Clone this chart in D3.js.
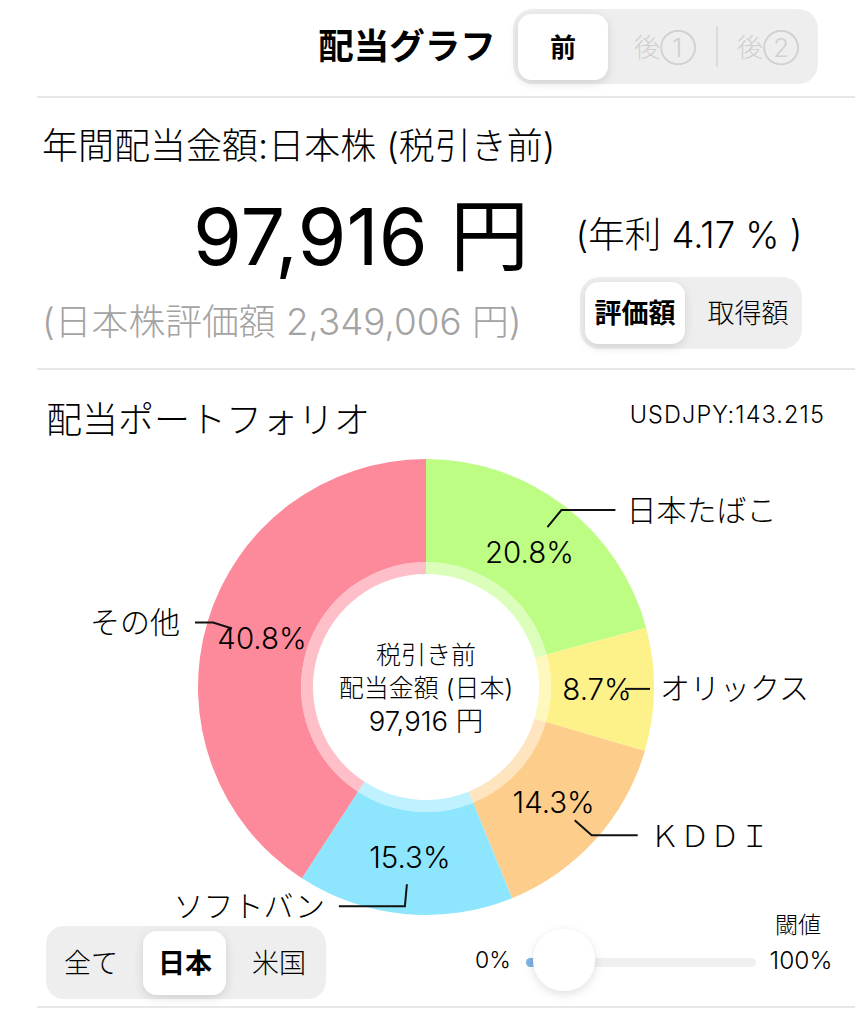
<!DOCTYPE html>
<html lang="ja">
<head>
<meta charset="UTF-8"/>
<title>配当グラフ</title>
<script src="https://d3js.org/d3.v7.min.js"></script>
<style>
	html, body { margin: 0; padding: 0; background: #fff; }
	svg { display: block; }
	text { font-family: "Inter", "Noto Sans CJK JP", sans-serif; fill: #000; }
	.rule { stroke: #cfcfcf; stroke-width: 1.2; }
	.leader { fill: none; stroke: #111; stroke-width: 2; }
</style>
</head>
<body>
<div id="chart"></div>
<script>
// chart values
var names = ["日本たばこ", "オリックス", "ＫＤＤＩ", "ソフトバン", "その他"];
var shares = [20.8, 8.7, 14.3, 15.3, 40.8];
var colors = ["#bdfd84", "#fdf28a", "#fdcd8b", "#8de6fd", "#fd8a9a"];
var centerLines = ["税引き前", "配当金額 (日本)", "97,916 円"];
var centerSizes = [25, 25, 27.5];

var w = 855, h = 1024;
var cx = 426, cy = 687;
var outer = 228, ringOuter = 125, ringInner = 113;

// label placement relative to the slice middle: value text, leader elbow, leader end, name
var labelLayout = [
	{vr: 170, from: [18, -25], elbow: [32, -42], to: [86, -42], name: [97, -42], anchor: "start"},
	{vr: 171, from: [28, 0], elbow: [40, 0], to: [53, 0], name: [63, -1], anchor: "start"},
	{vr: 172, from: [21, 18], elbow: [38, 33], to: [84, 33], name: [96, 34], anchor: "start"},
	{vr: 171, from: [-3, 27], elbow: [-5, 49], to: [-71, 49], name: [-85, 49], anchor: "end"},
	{vr: 171, from: [-30, -10], elbow: [-49, -16], to: [-67, -16], name: [-82, -16], anchor: "end"}
];

var svg = d3.select("#chart").append("svg")
	.attr("width", w)
	.attr("height", h);

var defs = svg.append("defs");
var shadow = defs.append("filter").attr("id", "soft")
	.attr("x", "-40%").attr("y", "-40%").attr("width", "180%").attr("height", "180%");
shadow.append("feDropShadow").attr("dx", 0).attr("dy", 3).attr("stdDeviation", 5)
	.attr("flood-color", "#000").attr("flood-opacity", 0.13);

function rule(y) {
	svg.append("line").attr("class", "rule")
		.attr("x1", 37).attr("x2", 855).attr("y1", y).attr("y2", y);
}
function label(x, y, str, size, opts) {
	opts = opts || {};
	var t = svg.append("text")
		.attr("x", x).attr("y", y)
		.attr("text-anchor", opts.anchor || "start")
		.attr("dominant-baseline", "central")
		.attr("font-size", size)
		.attr("font-weight", opts.weight || 300)
		.style("fill", opts.fill || "#000")
		.text(str);
	if (opts.spacing) t.attr("letter-spacing", opts.spacing);
	return t;
}
function pill(x, y, width, height, r, fill, raised) {
	var p = svg.append("rect")
		.attr("x", x).attr("y", y).attr("width", width).attr("height", height)
		.attr("rx", r).attr("fill", fill);
	if (raised) p.attr("filter", "url(#soft)");
}

// header
label(407, 46, "配当グラフ", 35.5, {anchor: "middle", weight: 700});
pill(513, 9, 305, 75, 20, "#eeeeee");
pill(518, 14, 90, 66, 14, "#fff", true);
label(563, 47, "前", 26, {anchor: "middle", weight: 700});
label(665, 47, "後①", 26, {anchor: "middle", fill: "#d0d0d0"});
svg.append("line").attr("x1", 717).attr("x2", 717).attr("y1", 26).attr("y2", 67)
	.attr("stroke", "#d4d4d4").attr("stroke-width", 1.5);
label(768, 47, "後②", 26, {anchor: "middle", fill: "#d0d0d0"});
rule(97);

// annual dividend block
label(42, 146, "年間配当金額:日本株 (税引き前)", 36);
label(361, 236, "97,916 円", 79, {anchor: "middle", weight: 400});
label(689, 235, "(年利 4.17 % )", 36.5, {anchor: "middle", weight: 300});
label(42, 321, "(日本株評価額 2,349,006 円)", 36.8, {fill: "#a3a3a3", weight: 300});
pill(580, 277, 222, 72, 20, "#eeeeee");
pill(585, 282, 100, 62, 14, "#fff", true);
label(635, 313, "評価額", 27, {anchor: "middle", weight: 700});
label(748, 313, "取得額", 27, {anchor: "middle"});
rule(369);

label(46, 420, "配当ポートフォリオ", 36);
label(825, 414, "USDJPY:143.215", 23.5, {anchor: "end", weight: 300, spacing: 1.1});

// donut
var pie = d3.pie().sort(null).value(function(d) { return d; });
var slices = pie(shares);
var arc = d3.arc().innerRadius(ringOuter).outerRadius(outer);
var ring = d3.arc().innerRadius(ringInner).outerRadius(ringOuter);

var donut = svg.append("g").attr("transform", "translate(" + cx + "," + cy + ")");

donut.selectAll("path.slice").data(slices).enter().append("path")
	.attr("class", "slice")
	.attr("d", arc)
	.attr("fill", function(d, i) { return colors[i]; });

donut.selectAll("path.ring").data(slices).enter().append("path")
	.attr("class", "ring")
	.attr("d", ring)
	.attr("fill", function(d, i) { return colors[i]; })
	.attr("opacity", 0.55);

// value text and leaders, positioned from each slice's middle angle
var leaderLine = d3.line();
slices.forEach(function(d, i) {
	var mid = (d.startAngle + d.endAngle) / 2;
	var p = labelLayout[i];
	var vx = Math.sin(mid) * p.vr;
	var vy = -Math.cos(mid) * p.vr;
	donut.append("text")
		.attr("x", vx).attr("y", vy)
		.attr("text-anchor", "middle")
		.attr("dominant-baseline", "central")
		.attr("font-size", 29.5)
		.attr("font-weight", 300)
		.text(shares[i] + "%");
	donut.append("path").attr("class", "leader")
		.attr("d", leaderLine([
			[vx + p.from[0], vy + p.from[1]],
			[vx + p.elbow[0], vy + p.elbow[1]],
			[vx + p.to[0], vy + p.to[1]]
		]));
	donut.append("text")
		.attr("x", vx + p.name[0]).attr("y", vy + p.name[1])
		.attr("text-anchor", p.anchor)
		.attr("dominant-baseline", "central")
		.attr("font-size", 30)
		.attr("font-weight", 300)
		.text(names[i]);
});

centerLines.forEach(function(s, i) {
	label(cx, 655 + i * 33, s, centerSizes[i], {anchor: "middle"});
});

// country toggle
pill(46, 926, 280, 73, 18, "#eeeeee");
pill(143, 931, 83, 64, 14, "#fff", true);
label(91, 963, "全て", 27, {anchor: "middle"});
label(185, 963, "日本", 27, {anchor: "middle", weight: 700});
label(279, 963, "米国", 27, {anchor: "middle"});

// threshold slider
label(798, 925, "閾値", 23, {anchor: "middle"});
label(493, 960, "0%", 23, {anchor: "middle", weight: 300});
label(801, 960, "100%", 24.5, {anchor: "middle", weight: 300});
pill(526, 958, 230, 9, 4.5, "#f0f0f0");
pill(526, 958, 30, 9, 4.5, "#7fb2e5");
svg.append("circle").attr("cx", 564).attr("cy", 960).attr("r", 31)
	.attr("fill", "#fff").attr("filter", "url(#soft)");
rule(1007);
</script>
</body>
</html>
